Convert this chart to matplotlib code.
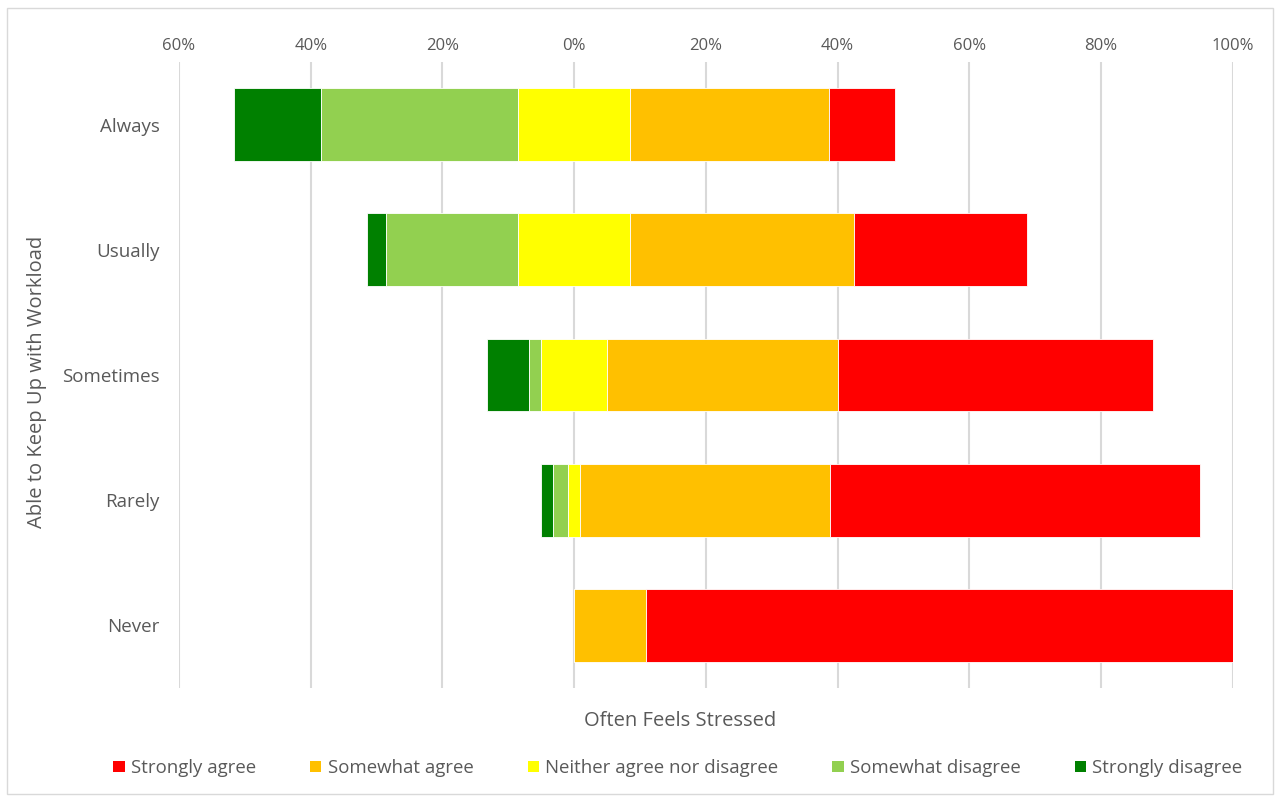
import matplotlib
matplotlib.use("Agg")
import matplotlib.pyplot as plt
from matplotlib.patches import Patch, Rectangle
from matplotlib.ticker import FuncFormatter
import numpy as np

plt.rcParams['font.family'] = ['Open Sans', 'DejaVu Sans']

# Survey responses (% of respondents) per workload group
categories = ["Always", "Usually", "Sometimes", "Rarely", "Never"]
strongly_disagree = [13.3, 2.9, 6.3, 1.9, 0.0]
somewhat_disagree = [29.9, 20.0, 1.9, 2.3, 0.0]
neither = [17.0, 17.0, 10.0, 1.8, 0.0]
somewhat_agree = [30.2, 34.0, 35.0, 38.0, 10.9]
strongly_agree = [10.0, 26.2, 47.9, 56.1, 89.2]

series = [
    ("Strongly disagree", strongly_disagree, "#008000"),
    ("Somewhat disagree", somewhat_disagree, "#92D050"),
    ("Neither agree nor disagree", neither, "#FFFF00"),
    ("Somewhat agree", somewhat_agree, "#FFC000"),
    ("Strongly agree", strongly_agree, "#FF0000"),
]

text_color = "#595959"
grid_color = "#D9D9D9"

fig = plt.figure(figsize=(12.8, 8.0), dpi=100)
ax = fig.add_axes([0.1398, 0.14, 0.8234, 0.7825])

y = np.arange(len(categories))
# Diverging baseline: neutral responses centered on zero
left = -(np.array(strongly_disagree) + np.array(somewhat_disagree) + np.array(neither) / 2)
handles = {}
for name, vals, color in series:
    vals = np.array(vals)
    ax.barh(y, vals, left=left, height=0.58, color=color,
            edgecolor="white", linewidth=0.6, zorder=3)
    handles[name] = Patch(facecolor=color, edgecolor="none")
    left = left + vals

ax.set_ylim(len(categories) - 0.5, -0.5)
ax.set_xlim(-60, 100)
ax.set_xticks(np.arange(-60, 101, 20))
ax.xaxis.set_major_formatter(FuncFormatter(lambda v, p: f"{abs(int(round(v)))}%"))
ax.xaxis.tick_top()
ax.tick_params(axis="x", length=0, pad=6, labelsize=12, labelcolor=text_color)
ax.set_yticks(y)
ax.set_yticklabels(categories)
ax.tick_params(axis="y", length=0, pad=14, labelsize=13.5, labelcolor=text_color)
ax.grid(axis="x", color=grid_color, linewidth=1.5, zorder=0)
for s in ax.spines.values():
    s.set_visible(False)

fig.text(37 / 1280, 1 - 382 / 800, "Able to Keep Up with Workload", rotation=90,
         ha="center", va="center", fontsize=14.5, color=text_color)
fig.text(680 / 1280, 1 - 721 / 800, "Often Feels Stressed",
         ha="center", va="center", fontsize=14.5, color=text_color)

order = ["Strongly agree", "Somewhat agree", "Neither agree nor disagree",
         "Somewhat disagree", "Strongly disagree"]
fig.legend([handles[n] for n in order], order, loc="center",
           bbox_to_anchor=(678 / 1280, 1 - 768 / 800), ncol=5, frameon=False,
           fontsize=13.4, handlelength=0.6, handleheight=0.6, handletextpad=0.35,
           columnspacing=2.9, labelcolor=text_color)

# Light chart-area frame
fig.patches.append(Rectangle((7 / 1280, 1 - 794 / 800), 1266 / 1280, 786 / 800,
                             transform=fig.transFigure, fill=False,
                             edgecolor="#D9D9D9", linewidth=1.0))

fig.savefig("out.png", dpi=100)
